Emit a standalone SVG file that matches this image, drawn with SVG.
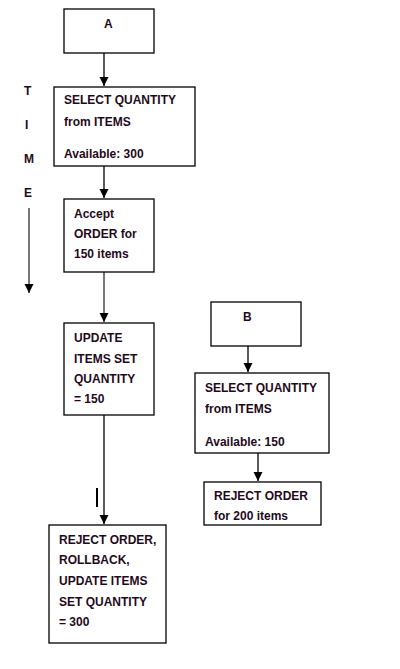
<svg xmlns="http://www.w3.org/2000/svg" width="400" height="669" viewBox="0 0 400 669">
<style>
.box{fill:#fff;stroke:#000;stroke-width:1.3}
.t{font-family:"Liberation Sans",Arial,sans-serif;font-weight:bold;font-size:12px;fill:#1f0a1c}
.c{stroke:#000;stroke-width:1.3;fill:none}
.g{stroke:#555;stroke-width:1.6;fill:none}
</style>
<defs>
<marker id="ah" markerWidth="10" markerHeight="10" refX="9" refY="5" orient="auto" markerUnits="userSpaceOnUse"><path d="M0,0.5 L9,5 L0,9.5 z" fill="#000"/></marker>
</defs>
<rect width="400" height="669" fill="#fff"/>
<g id="connectors">
<line class="c" x1="104" y1="53" x2="104" y2="86" marker-end="url(#ah)"/>
<line class="c" x1="104" y1="166" x2="104" y2="198" marker-end="url(#ah)"/>
<line class="g" x1="104" y1="272" x2="104" y2="322" marker-end="url(#ah)"/>
<line class="c" x1="104" y1="415" x2="104" y2="524" marker-end="url(#ah)"/>
<line class="c" x1="248" y1="346" x2="248" y2="372" marker-end="url(#ah)"/>
<line class="c" x1="258" y1="453" x2="258" y2="481" marker-end="url(#ah)"/>
<line class="g" x1="29" y1="208" x2="29" y2="293" marker-end="url(#ah)"/>
<line x1="97" y1="488" x2="97" y2="507" stroke="#000" stroke-width="2"/>
</g>
<g id="time">
<text class="t" x="24" y="95">T</text>
<text class="t" x="25" y="129">I</text>
<text class="t" x="24" y="163">M</text>
<text class="t" x="24" y="197">E</text>
</g>
<g id="nodeA">
<rect class="box" x="64" y="9" width="90" height="44"/>
<text class="t" x="104" y="28">A</text>
</g>
<g id="selectA">
<rect class="box" x="54" y="87" width="141" height="79"/>
<text class="t" x="64" y="104">SELECT QUANTITY</text>
<text class="t" x="64" y="126">from ITEMS</text>
<text class="t" x="64" y="158">Available: 300</text>
</g>
<g id="accept">
<rect class="box" x="64" y="199" width="90" height="73"/>
<text class="t" x="74" y="218">Accept</text>
<text class="t" x="74" y="238">ORDER for</text>
<text class="t" x="74" y="258">150 items</text>
</g>
<g id="update">
<rect class="box" x="64" y="323" width="90" height="92"/>
<text class="t" x="74" y="342">UPDATE</text>
<text class="t" x="74" y="363">ITEMS SET</text>
<text class="t" x="74" y="383">QUANTITY</text>
<text class="t" x="74" y="403">= 150</text>
</g>
<g id="rollback">
<rect class="box" x="49" y="525" width="117" height="118"/>
<text class="t" x="59" y="544">REJECT ORDER,</text>
<text class="t" x="59" y="564">ROLLBACK,</text>
<text class="t" x="59" y="585">UPDATE ITEMS</text>
<text class="t" x="59" y="606">SET QUANTITY</text>
<text class="t" x="59" y="626">= 300</text>
</g>
<g id="nodeB">
<rect class="box" x="211" y="302" width="90" height="44"/>
<text class="t" x="243" y="321">B</text>
</g>
<g id="selectB">
<rect class="box" x="195" y="373" width="134" height="80"/>
<text class="t" x="205" y="392">SELECT QUANTITY</text>
<text class="t" x="205" y="413">from ITEMS</text>
<text class="t" x="205" y="446">Available: 150</text>
</g>
<g id="rejectB">
<rect class="box" x="204" y="482" width="117" height="43"/>
<text class="t" x="214" y="500">REJECT ORDER</text>
<text class="t" x="214" y="520">for 200  items</text>
</g>
</svg>
